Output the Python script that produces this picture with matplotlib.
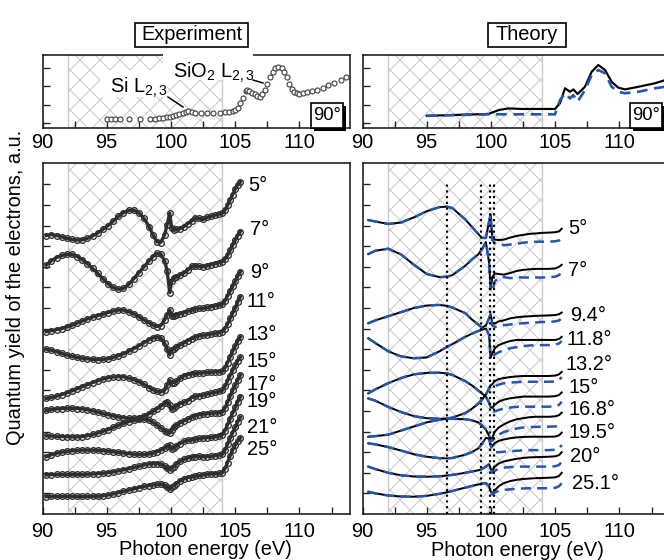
import matplotlib
matplotlib.use('Agg')
import matplotlib.pyplot as plt
from matplotlib.patches import Rectangle
from matplotlib.lines import Line2D
from matplotlib.ticker import MultipleLocator

plt.rcParams['font.family'] = ['Liberation Sans', 'DejaVu Sans']
plt.rcParams['mathtext.fontset'] = 'custom'
plt.rcParams['mathtext.rm'] = 'Liberation Sans'
plt.rcParams['mathtext.it'] = 'Liberation Sans:italic'
plt.rcParams['hatch.color'] = '#c8c8c8'
plt.rcParams['hatch.linewidth'] = 0.6

# ---------------- data ----------------
exp_angles = ['5°', '7°', '9°', '11°', '13°', '15°', '17°', '19°', '21°', '25°']
E_exp = [90.3, 90.7, 91.1, 91.5, 91.9, 92.3, 92.7, 93.1, 93.5, 93.9, 94.3, 94.7, 95.1, 95.5,
         95.9, 96.3, 96.7, 97.1, 97.5, 97.9, 98.3, 98.6, 98.9, 99.2, 99.5, 99.7, 99.9, 100.05,
         100.2, 100.4, 100.7, 101.0, 101.3, 101.6, 101.9, 102.2, 102.5, 102.8, 103.1, 103.4,
         103.7, 104.0, 104.2, 104.4, 104.6, 104.8, 105.0, 105.2, 105.4]
exp_5 = [13.52, 13.56, 13.52, 13.45, 13.38, 13.33, 13.30, 13.31, 13.38, 13.50, 13.64, 13.82, 14.0, 14.22,
         14.45, 14.63, 14.74, 14.75, 14.62, 14.35, 13.95, 13.55, 13.22, 13.18, 13.55, 14.05, 14.6, 13.9,
         13.8, 13.82, 13.85, 13.95, 14.1, 14.22, 14.38, 14.35, 14.3, 14.4, 14.45, 14.5,
         14.56, 14.6, 14.75, 14.98, 15.25, 15.5, 15.78, 15.98, 16.13]
exp_7 = [12.09, 12.3, 12.45, 12.55, 12.6, 12.6, 12.5, 12.35, 12.15, 11.92, 11.68, 11.42, 11.18, 11.0,
         10.91, 10.95, 11.15, 11.42, 11.72, 12.0, 12.3, 12.5, 12.65, 12.62, 12.3, 11.8, 10.75, 11.3,
         11.45, 11.52, 11.6, 11.7, 11.85, 12.02, 12.05, 12.02, 12.0, 12.05, 12.1, 12.15,
         12.2, 12.25, 12.38, 12.55, 12.8, 13.05, 13.3, 13.52, 13.71]
exp_9 = [8.85, 8.9, 8.95, 9.0, 9.08, 9.17, 9.27, 9.37, 9.47, 9.56, 9.63, 9.7, 9.78, 9.85,
         9.9, 9.9, 9.82, 9.72, 9.58, 9.42, 9.28, 9.17, 9.1, 9.15, 9.42, 9.65, 9.9, 9.62,
         9.6, 9.68, 9.72, 9.77, 9.84, 9.9, 9.96, 9.98, 9.98, 10.03, 10.07, 10.1,
         10.14, 10.18, 10.35, 10.58, 10.82, 11.05, 11.3, 11.55, 11.76]
exp_11 = [8.0, 7.95, 7.88, 7.8, 7.72, 7.66, 7.6, 7.56, 7.53, 7.51, 7.5, 7.51, 7.53, 7.6,
          7.68, 7.78, 7.9, 8.03, 8.17, 8.32, 8.46, 8.55, 8.6, 8.55, 8.3, 8.0, 7.72, 7.95,
          8.02, 8.1, 8.2, 8.3, 8.42, 8.52, 8.6, 8.65, 8.68, 8.7, 8.73, 8.77,
          8.81, 8.85, 9.0, 9.22, 9.5, 9.75, 10.0, 10.3, 10.55]
exp_13 = [5.61, 5.66, 5.72, 5.8, 5.88, 5.98, 6.08, 6.18, 6.28, 6.38, 6.47, 6.55, 6.61, 6.65,
          6.67, 6.66, 6.6, 6.52, 6.42, 6.29, 6.14, 6.03, 5.95, 5.92, 6.0, 6.25, 6.5, 6.35,
          6.38, 6.45, 6.58, 6.7, 6.77, 6.81, 6.83, 6.84, 6.85, 6.87, 6.88, 6.9,
          6.91, 6.92, 7.1, 7.35, 7.62, 7.9, 8.15, 8.4, 8.6]
exp_15 = [5.05, 5.08, 5.1, 5.12, 5.13, 5.13, 5.12, 5.1, 5.06, 5.01, 4.95, 4.88, 4.82, 4.76,
          4.71, 4.67, 4.65, 4.65, 4.68, 4.75, 4.87, 4.98, 5.1, 5.23, 5.37, 5.45, 5.3, 5.08,
          5.15, 5.25, 5.35, 5.42, 5.5, 5.65, 5.72, 5.75, 5.77, 5.82, 5.86, 5.9,
          5.95, 6.0, 6.2, 6.45, 6.72, 6.98, 7.22, 7.45, 7.62]
exp_17 = [3.79, 3.78, 3.77, 3.76, 3.75, 3.74, 3.74, 3.76, 3.8, 3.86, 3.93, 4.01, 4.1, 4.2,
          4.3, 4.4, 4.48, 4.55, 4.6, 4.6, 4.55, 4.45, 4.32, 4.18, 4.05, 3.98, 3.95, 4.1,
          4.2, 4.3, 4.42, 4.52, 4.6, 4.7, 4.78, 4.82, 4.85, 4.87, 4.89, 4.9,
          4.92, 4.95, 5.15, 5.42, 5.72, 6.0, 6.25, 6.5, 6.75]
exp_19 = [2.78, 2.88, 2.95, 3.0, 3.04, 3.07, 3.09, 3.1, 3.1, 3.1, 3.09, 3.07, 3.05, 3.02,
          2.99, 2.96, 2.93, 2.9, 2.89, 2.89, 2.91, 2.95, 3.02, 3.1, 3.2, 3.28, 3.35, 3.15,
          3.2, 3.3, 3.42, 3.52, 3.58, 3.6, 3.64, 3.67, 3.7, 3.71, 3.72, 3.74,
          3.78, 3.85, 4.05, 4.32, 4.62, 4.9, 5.18, 5.45, 5.7]
exp_21 = [1.89, 1.91, 1.92, 1.92, 1.92, 1.92, 1.92, 1.92, 1.93, 1.94, 1.96, 1.98, 2.0, 2.04,
          2.09, 2.14, 2.2, 2.26, 2.32, 2.38, 2.43, 2.45, 2.45, 2.42, 2.32, 2.22, 2.15, 2.22,
          2.3, 2.42, 2.55, 2.65, 2.72, 2.76, 2.79, 2.8, 2.78, 2.79, 2.8, 2.83,
          2.86, 2.9, 3.1, 3.38, 3.68, 3.95, 4.2, 4.48, 4.7]
exp_25 = [0.84, 0.85, 0.85, 0.85, 0.85, 0.85, 0.85, 0.85, 0.85, 0.86, 0.86, 0.88, 0.92, 0.97,
          1.03, 1.1, 1.16, 1.22, 1.28, 1.34, 1.38, 1.41, 1.44, 1.45, 1.4, 1.3, 1.2, 1.3,
          1.38, 1.48, 1.6, 1.7, 1.77, 1.81, 1.84, 1.87, 1.9, 1.93, 1.95, 1.95,
          1.97, 2.0, 2.2, 2.5, 2.82, 3.1, 3.35, 3.55, 3.7]
exp_series = [exp_5, exp_7, exp_9, exp_11, exp_13, exp_15, exp_17, exp_19, exp_21, exp_25]

theo_angles = ['5°', '7°', '9.4°', '11.8°', '13.2°', '15°', '16.8°', '19.5°', '20°', '25.1°']
E_theo_pre = [90.45, 91, 92, 93, 94, 95, 96, 96.6, 97, 98, 98.5, 99, 99.3, 99.6, 99.85, 99.97]
E_theo_post = [100.1, 100.3, 100.6, 101, 101.5, 102, 102.5, 103, 103.5, 104, 104.5, 105, 105.3, 105.5]
theo_pre = [
    [14.27, 14.2, 14.08, 14.15, 14.4, 14.7, 14.9, 14.92, 14.85, 14.3, 13.95, 13.6, 13.4, 13.4, 14.2, 14.55],
    [12.62, 12.78, 12.88, 12.6, 12.1, 11.65, 11.5, 11.52, 11.6, 12.05, 12.35, 12.6, 12.85, 13.2, 12.2, 10.9],
    [9.26, 9.4, 9.6, 9.8, 10.0, 10.12, 10.15, 10.1, 10.02, 9.75, 9.45, 9.2, 9.05, 9.15, 9.5, 9.7],
    [8.53, 8.3, 7.9, 7.65, 7.56, 7.6, 7.9, 8.12, 8.25, 8.6, 8.75, 8.88, 8.95, 9.0, 8.7, 7.6],
    [5.61, 5.5, 5.2, 4.95, 4.75, 4.65, 4.62, 4.64, 4.68, 4.9, 5.1, 5.35, 5.55, 5.8, 6.1, 6.25],
    [5.86, 6.05, 6.35, 6.6, 6.78, 6.85, 6.86, 6.82, 6.75, 6.45, 6.25, 6.0, 5.85, 5.7, 5.4, 5.2],
    [3.75, 3.78, 3.85, 4.05, 4.25, 4.45, 4.58, 4.62, 4.62, 4.6, 4.55, 4.45, 4.3, 4.1, 3.8, 3.6],
    [3.43, 3.38, 3.25, 3.08, 2.9, 2.78, 2.71, 2.70, 2.72, 2.88, 3.0, 3.18, 3.4, 3.7, 3.65, 3.35],
    [2.30, 2.18, 2.0, 1.88, 1.82, 1.81, 1.83, 1.87, 1.9, 2.0, 2.06, 2.12, 2.18, 2.3, 2.42, 2.2],
    [1.08, 1.0, 0.9, 0.85, 0.84, 0.88, 0.98, 1.06, 1.12, 1.28, 1.36, 1.43, 1.48, 1.5, 1.35, 1.1],
]
theo_post_solid = [
    [13.4, 13.32, 13.3, 13.32, 13.42, 13.5, 13.55, 13.6, 13.62, 13.65, 13.66, 13.68, 13.72, 13.85],
    [11.5, 11.68, 11.65, 11.62, 11.7, 11.8, 11.85, 11.88, 11.9, 11.9, 11.9, 11.92, 12.0, 12.1],
    [9.3, 9.25, 9.35, 9.4, 9.5, 9.55, 9.58, 9.6, 9.62, 9.63, 9.64, 9.66, 9.7, 9.78],
    [7.8, 8.05, 8.2, 8.3, 8.4, 8.45, 8.45, 8.45, 8.45, 8.45, 8.45, 8.45, 8.5, 8.6],
    [6.3, 6.45, 6.55, 6.6, 6.65, 6.68, 6.7, 6.7, 6.7, 6.7, 6.7, 6.72, 6.78, 6.9],
    [5.15, 5.3, 5.45, 5.55, 5.62, 5.66, 5.7, 5.7, 5.7, 5.7, 5.7, 5.72, 5.78, 5.9],
    [3.7, 4.0, 4.2, 4.35, 4.5, 4.6, 4.65, 4.7, 4.72, 4.72, 4.72, 4.74, 4.8, 4.92],
    [3.3, 3.45, 3.55, 3.62, 3.68, 3.72, 3.74, 3.75, 3.75, 3.75, 3.75, 3.76, 3.82, 3.95],
    [2.1, 2.3, 2.45, 2.55, 2.62, 2.68, 2.72, 2.75, 2.76, 2.77, 2.78, 2.8, 2.86, 3.0],
    [1.0, 1.15, 1.35, 1.5, 1.6, 1.66, 1.7, 1.72, 1.74, 1.75, 1.76, 1.78, 1.85, 2.0],
]
theo_post_dash = [
    [13.3, 13.15, 13.08, 13.05, 13.08, 13.12, 13.17, 13.2, 13.22, 13.22, 13.22, 13.24, 13.28, 13.4],
    [10.8, 11.3, 11.45, 11.5, 11.45, 11.5, 11.48, 11.48, 11.48, 11.48, 11.5, 11.52, 11.6, 11.75],
    [9.15, 9.08, 9.12, 9.17, 9.2, 9.24, 9.26, 9.28, 9.3, 9.32, 9.33, 9.35, 9.4, 9.5],
    [7.6, 7.75, 7.85, 7.95, 8.05, 8.1, 8.15, 8.18, 8.2, 8.2, 8.2, 8.22, 8.28, 8.4],
    [6.15, 6.2, 6.28, 6.35, 6.38, 6.4, 6.42, 6.42, 6.42, 6.42, 6.42, 6.43, 6.5, 6.65],
    [4.95, 4.98, 5.05, 5.12, 5.17, 5.2, 5.21, 5.21, 5.21, 5.21, 5.21, 5.23, 5.3, 5.45],
    [3.55, 3.7, 3.85, 3.98, 4.08, 4.15, 4.2, 4.22, 4.23, 4.24, 4.24, 4.25, 4.3, 4.45],
    [3.1, 3.0, 3.0, 3.02, 3.05, 3.07, 3.09, 3.1, 3.1, 3.1, 3.1, 3.12, 3.18, 3.35],
    [2.0, 2.1, 2.2, 2.25, 2.28, 2.3, 2.3, 2.3, 2.3, 2.3, 2.3, 2.32, 2.38, 2.55],
    [0.95, 1.05, 1.12, 1.17, 1.2, 1.22, 1.24, 1.25, 1.25, 1.25, 1.25, 1.27, 1.35, 1.5],
]
marker_lines_E = [96.6, 99.2, 99.95, 100.2]

E_top_exp = [95.0, 95.3, 95.65, 96.05, 96.75, 97.55, 98.35, 98.75, 99.1, 99.4, 99.65, 99.9, 100.15,
             100.4, 100.65, 100.9, 101.15, 101.35, 101.6, 101.9, 102.3, 102.8, 103.3, 103.8, 104.2,
             104.5, 104.8, 105.0, 105.2, 105.4, 105.6, 105.8, 105.95, 106.1, 106.3, 106.5, 106.7,
             106.9, 107.1, 107.3, 107.5, 107.7, 107.9, 108.1, 108.35, 108.6, 108.8, 109.0, 109.2,
             109.4, 109.6, 109.8, 110.0, 110.3, 110.6, 111.0, 111.4, 111.8, 112.2, 112.7, 113.2, 113.6]
top_exp = [0.50, 0.50, 0.50, 0.50, 0.50, 0.50, 0.50, 0.51, 0.52, 0.55, 0.58, 0.62, 0.66,
           0.70, 0.75, 0.82, 0.88, 0.90, 0.85, 0.82, 0.82, 0.82, 0.82, 0.83, 0.84,
           0.86, 0.90, 0.98, 1.10, 1.35, 1.65, 2.0, 2.06, 2.0, 1.9, 1.85, 1.75,
           1.70, 1.82, 2.05, 2.4, 2.75, 3.05, 3.25, 3.32, 3.25, 3.05, 2.75, 2.4,
           2.1, 1.95, 1.87, 1.85, 1.88, 1.93, 2.0, 2.07, 2.15, 2.3, 2.45, 2.6, 2.75]
E_top_theo = [95.0, 99.8, 100.6, 101.35, 102.4, 104.98, 105.37, 105.76, 106.15, 106.41, 106.74,
              107.31, 107.83, 108.35, 108.87, 109.39, 109.91, 110.43, 111.47, 112.76, 113.54, 114.6]
top_theo_solid = [0.66, 0.76, 0.97, 1.06, 1.03, 1.03, 1.34, 2.15, 1.96, 2.09, 1.84,
                  2.23, 3.04, 3.41, 3.14, 2.50, 2.18, 2.09, 2.23, 2.42, 2.59, 2.63]
top_theo_dash = [0.66, 0.74, 0.74, 0.74, 0.74, 0.74, 1.51, 1.88, 1.60, 1.78, 1.42,
                 2.05, 2.86, 3.14, 2.96, 2.23, 1.96, 1.88, 1.96, 2.15, 2.23, 2.3]

# ---------------- figure ----------------
DPI = 120
W, H = 664, 560
fig = plt.figure(figsize=(W / DPI, H / DPI), dpi=DPI)


def px_axes(l, t, r, b):
    return fig.add_axes([l / W, 1 - b / H, (r - l) / W, (b - t) / H])


def fx(x):
    return x / W


def fy(y):
    return 1 - y / H


XLIM = (90, 113.93)
FS = 12
DARK = '#2e2e2e'
BLUE = '#2457b0'


def style(ax, ylim, yticks):
    ax.set_xlim(*XLIM)
    ax.set_ylim(*ylim)
    ax.axvspan(92, 104, facecolor='none', edgecolor='#c8c8c8', hatch='xx', lw=0.8, zorder=0)
    ax.xaxis.set_major_locator(MultipleLocator(5))
    ax.xaxis.set_minor_locator(MultipleLocator(2.5))
    ax.set_yticks(yticks)
    ax.tick_params(axis='both', which='both', direction='in', length=4, width=0.8,
                   labelsize=FS, top=False, right=False, colors='#222222', labelcolor='black')
    ax.tick_params(axis='y', labelleft=False)
    for s in ax.spines.values():
        s.set_linewidth(1.0)
        s.set_color('#222222')


ax_tl = px_axes(42.5, 55, 350, 128)
ax_tr = px_axes(362.5, 55, 670, 128)
ax_ml = px_axes(42.5, 163, 350, 514)
ax_mr = px_axes(362.5, 163, 670, 514)

for a in (ax_tl, ax_tr):
    style(a, (0, 3.95), [0.25, 1.25, 2.25, 3.25])
    a.tick_params(axis='x', pad=3)
for a in (ax_ml, ax_mr):
    style(a, (0, 17.04), list(range(1, 17)))
    a.tick_params(axis='x', pad=5)

# experiment
for ys in exp_series:
    ax_ml.plot(E_exp, ys, '-', color=DARK, lw=2.0, zorder=3)
    ax_ml.plot(E_exp, ys, 'o', ms=3.4, mfc='none', mec=DARK, mew=0.8, zorder=4)
ax_tl.plot(E_top_exp, top_exp, 'o', ms=3.0, mfc='white', mec='#444444', mew=0.7, zorder=3)

# theory
for pre, ps, pd in zip(theo_pre, theo_post_solid, theo_post_dash):
    ax_mr.plot(E_theo_pre + E_theo_post, pre + ps, '-', color='black', lw=1.2, zorder=3)
    ax_mr.plot(E_theo_pre + E_theo_post, pre + pd, '--', color=BLUE, lw=1.5,
               dashes=(4, 2.5), zorder=4)
for xv in marker_lines_E:
    ax_mr.plot([xv, xv], [0, 16], ':', color='black', lw=1.3, zorder=5)
ax_tr.plot(E_top_theo, top_theo_solid, '-', color='black', lw=1.3, zorder=3)
ax_tr.plot(E_top_theo, top_theo_dash, '--', color=BLUE, lw=1.6, dashes=(4, 2.5), zorder=4)

# curve labels
exp_label_pos = [(106.0, 15.97), (106.15, 13.79), (106.15, 11.70), (105.9, 10.31), (105.9, 8.69),
                 (105.9, 7.38), (105.9, 6.31), (105.9, 5.44), (105.9, 4.22), (105.9, 3.11)]
for lab, (x, y) in zip(exp_angles, exp_label_pos):
    ax_ml.text(x, y, lab, fontsize=FS, va='center', ha='left')
theo_label_pos = [(106.0, 13.88), (106.0, 11.84), (106.15, 9.66), (105.9, 8.45), (105.8, 7.28),
                  (106.0, 6.12), (106.0, 5.05), (106.0, 3.98), (106.15, 2.77), (106.3, 1.50)]
for lab, (x, y) in zip(theo_angles, theo_label_pos):
    ax_mr.text(x, y, lab, fontsize=FS, va='center', ha='left')

# axis labels
fig.text(fx(16), fy(287), 'Quantum yield of the electrons, a.u.', rotation=90,
         ha='center', va='center', fontsize=FS)
fig.text(fx(205), fy(555), 'Photon energy (eV)', ha='center', va='baseline', fontsize=FS)
fig.text(fx(517), fy(555.5), 'Photon energy (eV)', ha='center', va='baseline', fontsize=FS)


def fig_rect(l, t, r, b, **kw):
    rect = Rectangle((fx(l), fy(b)), (r - l) / W, (b - t) / H, transform=fig.transFigure, **kw)
    fig.add_artist(rect)
    return rect


# titles in boxes
fig_rect(135, 23, 248, 47, facecolor='white', edgecolor='black', lw=1.0, zorder=5)
fig.text(fx(191.5), fy(35), 'Experiment', ha='center', va='center', fontsize=FS, zorder=6)
fig_rect(488, 23, 566, 47, facecolor='white', edgecolor='black', lw=1.0, zorder=5)
fig.text(fx(527), fy(35), 'Theory', ha='center', va='center', fontsize=FS, zorder=6)

# annotation backgrounds
fig_rect(100, 70, 167, 97, facecolor='white', edgecolor='none', zorder=5)
fig_rect(163, 50, 253, 80, facecolor='white', edgecolor='none', zorder=5)
fig.text(fx(110), fy(93), r'Si L$_{\mathrm{2,3}}$', ha='left', va='baseline', fontsize=FS, zorder=6)
fig.text(fx(173), fy(78), r'SiO$_{\mathrm{2}}$ L$_{\mathrm{2,3}}$', ha='left', va='baseline',
         fontsize=FS, zorder=6)
fig.add_artist(Line2D([fx(168), fx(183)], [fy(97), fy(107)], transform=fig.transFigure,
                      color='black', lw=0.9, zorder=6))
fig.add_artist(Line2D([fx(253), fx(263)], [fy(80), fy(83)], transform=fig.transFigure,
                      color='black', lw=0.9, zorder=6))

# 90 degree boxes with shadow
for (l, t, r, b) in [(311, 103, 343, 128), (630, 103, 662, 128)]:
    fig_rect(l + 3, t + 3, r + 3, b + 3, facecolor='black', edgecolor='black', lw=0, zorder=5)
    fig_rect(l, t, r, b, facecolor='white', edgecolor='black', lw=1.0, zorder=6)
    fig.text(fx((l + r) / 2), fy((t + b) / 2 + 0.5), '90°', ha='center', va='center',
             fontsize=11, zorder=7)

fig.savefig('out.png', dpi=DPI)
